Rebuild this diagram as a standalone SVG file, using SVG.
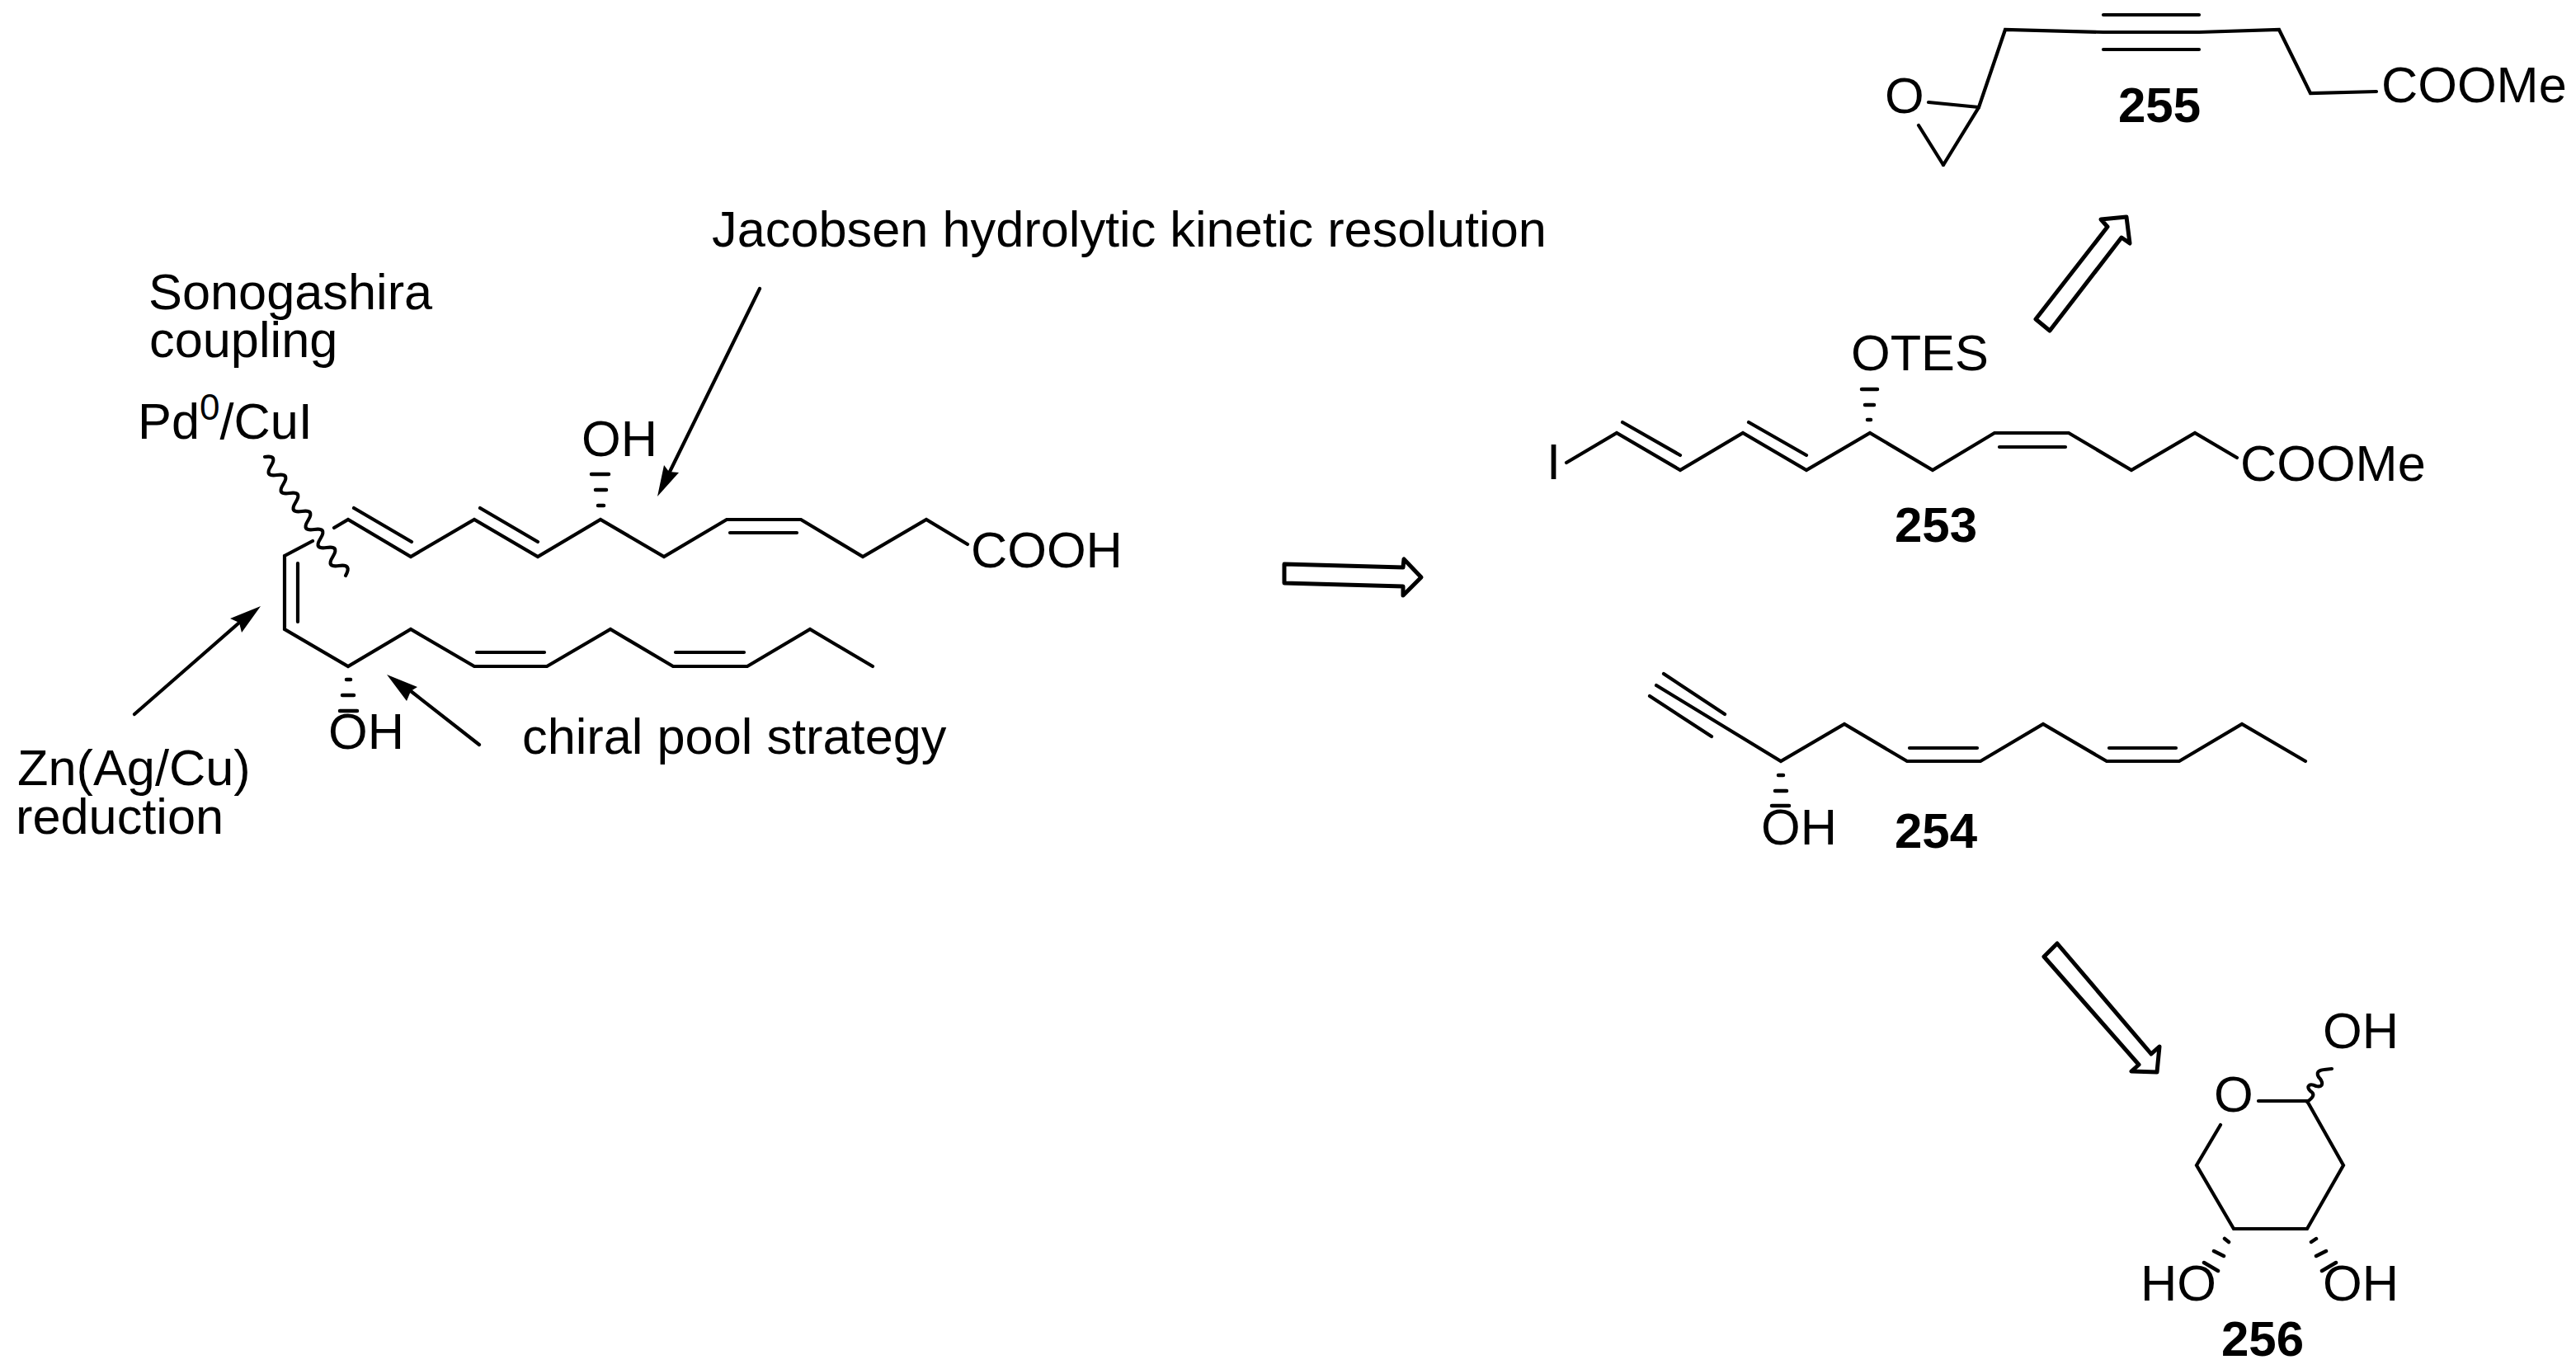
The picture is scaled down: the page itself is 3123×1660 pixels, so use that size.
<svg xmlns="http://www.w3.org/2000/svg" width="3123" height="1660" viewBox="0 0 3123 1660">
<defs>
<style>
text{font-family:"Liberation Sans",Arial,sans-serif;font-size:61.3px;fill:#000}
.n{font-weight:bold;font-size:60px}
.b{fill:none;stroke:#000;stroke-width:4.2;stroke-linejoin:miter;stroke-linecap:round}
.h{fill:none;stroke:#000;stroke-width:4.5;stroke-linecap:round}
.a{fill:#000;stroke:none}
.o{fill:#fff;stroke:#000;stroke-width:5;stroke-linejoin:round}
</style>
</defs>
<rect width="3123" height="1660" fill="#fff"/>
<g id="label-jacobsen"><text x="863" y="299">Jacobsen hydrolytic kinetic resolution</text></g>
<g id="label-sonogashira"><text x="180" y="375">Sonogashira</text><text x="181" y="433">coupling</text></g>
<g id="label-pd"><text x="167" y="532">Pd<tspan font-size="44" dy="-23">0</tspan><tspan dy="23">/CuI</tspan></text></g>
<g id="label-zn"><text x="21" y="952">Zn(Ag/Cu)</text><text x="19" y="1011">reduction</text></g>
<g id="label-chiral"><text x="633" y="914">chiral pool strategy</text></g>
<g id="compound-252">
<path class="b" d="M405,640L422,630L498,675L575,630L652,675L728,630L805,675L881,630L971,630L1046,675L1123,630L1173,660"/>
<path class="b" d="M379,656L345,674V763L422,808L498,763L575,808L663,808L740,763L816,808L906,808L982,763L1058,808"/>
<path class="b" d="M429,616L499,657M582,616L652,657M885,646H966M361,683V754M578,791H660M819,791H902"/>
<path class="b" d="M321,554q16,-2.5 7.5,11t7.5,11t7.5,11t7.5,11t7.5,11t7.5,11t7.5,11t7.5,11t7.5,11t7.5,11t7.5,11t7.5,11t8,12"/>
<path class="h" d="M717,575H738M722,594H735M725,613H732M420,824H425M415,843H429M412,862H433"/>
<text x="705" y="553">OH</text><text x="398" y="908">OH</text><text x="1177" y="688">COOH</text>
</g>
<g id="compound-253">
<text x="1875" y="581">I</text>
<path class="b" d="M1899,561L1960,525L2037,570L2113,525L2190,570L2267,525L2343,570L2418,525L2508,525L2584,570L2661,525L2712,555"/>
<path class="b" d="M1967,512L2037,552M2120,512L2190,552M2424,542H2504"/>
<path class="h" d="M2257,472H2276M2261,491H2272M2264,509H2268"/>
<text x="2244" y="449">OTES</text><text x="2716" y="583">COOMe</text><text class="n" x="2297" y="657">253</text>
</g>
<g id="compound-254">
<path class="b" d="M2008,831L2159,923L2236,878L2312,923L2401,923L2477,878L2554,923L2642,923L2718,878L2795,923"/>
<path class="b" d="M2000,844L2075,893M2017,817L2091,866M2315,907H2397M2557,907H2638"/>
<path class="h" d="M2156,940H2162M2152,959H2166M2148,977H2169"/>
<text x="2135" y="1024">OH</text><text class="n" x="2297" y="1028">254</text>
</g>
<g id="compound-255">
<path class="b" d="M2356,200L2399,130L2431,36L2550,39H2666L2763,36L2801,113L2881,111"/>
<path class="b" d="M2326,152L2356,200M2338,124L2399,130M2550,18H2666M2550,60H2666"/>
<text x="2285" y="137">O</text><text x="2887" y="124">COOMe</text><text class="n" x="2568" y="148">255</text>
</g>
<g id="compound-256">
<path class="b" d="M2738,1335H2797L2841,1413L2797,1490H2708L2663,1413L2692,1364"/>
<path class="b" d="M2797,1336C2806,1330 2806,1326 2801,1323C2795,1317 2800,1313 2808,1317C2818,1319 2816,1311 2811,1306C2806,1297 2816,1297 2827,1296"/>
<text x="2816" y="1271">OH</text><text x="2684" y="1348">O</text><text x="2595" y="1577">HO</text><text x="2816" y="1577">OH</text>
<path class="h" d="M2697,1502L2702,1506M2684,1517L2696,1523M2672,1531L2689,1541M2808,1502L2802,1506M2820,1517L2808,1523M2832,1531L2815,1541"/>
<text class="n" x="2693" y="1644">256</text>
</g>
<g id="connectors">
<path class="b" d="M921,350L811,574M163,866L290,755M581,903L498,838"/>
<path class="a" d="M797,602L805,564L811,572L823,573Z"/>
<path class="a" d="M316,735L279,750L290,755L293,767Z"/>
<path class="a" d="M469,818L493,850L498,838L506,833Z"/>
<path class="o" d="M1557,684L1557,707L1701,711L1701,722L1723,700L1702,678L1701,688Z"/>
<path class="o" d="M2578,263L2547,266L2555,275L2468,387L2485,401L2572,288L2582,295Z"/>
<path class="o" d="M2494,1144L2478,1160L2593,1291L2584,1299L2615,1300L2618,1269L2608,1278Z"/>
</g>
</svg>
